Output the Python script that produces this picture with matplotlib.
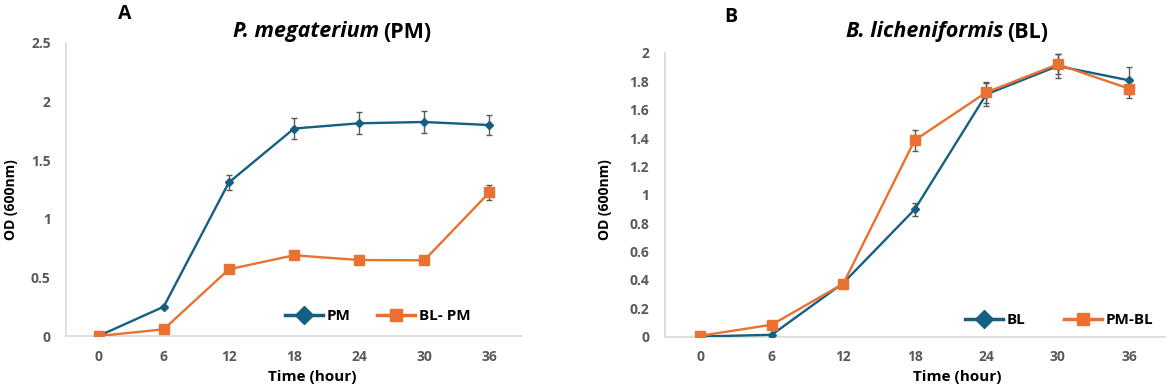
"""Growth curves of P. megaterium and B. licheniformis, single vs co-culture."""
import matplotlib
matplotlib.use("Agg")
import matplotlib.pyplot as plt
from matplotlib.lines import Line2D

# ── data ─────────────────────────────────────────────────────────────────────
time_h = ["0", "6", "12", "18", "24", "30", "36"]

pm_od     = [0.00, 0.25, 1.31, 1.77, 1.815, 1.826, 1.80]
pm_err    = [0.00, 0.01, 0.065, 0.09, 0.092, 0.094, 0.088]
blpm_od   = [0.00, 0.057, 0.569, 0.689, 0.648, 0.646, 1.226]
blpm_err  = [0.00, 0.00, 0.01, 0.03, 0.01, 0.01, 0.064]

bl_od     = [0.00, 0.012, 0.377, 0.897, 1.708, 1.908, 1.807]
bl_err    = [0.00, 0.005, 0.01, 0.046, 0.08, 0.087, 0.094]
pmbl_od   = [0.005, 0.083, 0.372, 1.385, 1.722, 1.92, 1.748]
pmbl_err  = [0.00, 0.005, 0.01, 0.075, 0.073, 0.07, 0.065]

# ── style ────────────────────────────────────────────────────────────────────
BLUE   = "#156082"
ORANGE = "#E97132"
GREY   = "#595959"
SPINE  = "#d9d9d9"
plt.rcParams["font.family"] = ["Open Sans", "DejaVu Sans"]

W, H = 1170, 389
fig = plt.figure(figsize=(W / 100, H / 100), dpi=100)
fig.patch.set_facecolor("white")


def fx(px):
    return px / W


def fy(py):
    return 1 - py / H


def panel(rect, ylim, yticks, series):
    ax = fig.add_axes(rect)
    x = list(range(len(time_h)))
    for vals, errs, col, mk, ms in series:
        ax.errorbar(x, vals, yerr=errs, color=col, lw=1.7, marker=mk, ms=ms,
                    mec=col, mfc=col, ecolor=GREY, elinewidth=1.0, capsize=2.2,
                    capthick=1.0, zorder=3)
    ax.set_xlim(-0.5, len(time_h) - 0.5)
    ax.set_ylim(*ylim)
    ax.set_xticks(x)
    ax.set_xticklabels(time_h)
    ax.set_yticks(yticks)
    ax.set_yticklabels([f"{t:g}" for t in yticks])
    for s in ["top", "right"]:
        ax.spines[s].set_visible(False)
    for s in ["left", "bottom"]:
        ax.spines[s].set_color(SPINE)
        ax.spines[s].set_linewidth(1.2)
    ax.tick_params(length=0, labelsize=10, labelcolor=GREY)
    ax.tick_params(axis="x", pad=10)
    ax.tick_params(axis="y", pad=11)
    for lab in ax.get_xticklabels() + ax.get_yticklabels():
        lab.set_fontweight("bold")
    return ax


def legend(ax, labels, anchor, colspace):
    handles = [
        Line2D([], [], color=BLUE, lw=2.5, marker="D", ms=9, mfc=BLUE, mec=BLUE),
        Line2D([], [], color=ORANGE, lw=2.5, marker="s", ms=9, mfc=ORANGE, mec=ORANGE),
    ]
    ax.legend(handles, labels, ncol=2, frameon=False, loc="center left",
              bbox_to_anchor=anchor, bbox_transform=fig.transFigure,
              prop=dict(weight="bold", size=11), handlelength=2.5,
              handletextpad=0.25, columnspacing=colspace, borderpad=0)


# ── panel A ──────────────────────────────────────────────────────────────────
axA = panel([fx(66), fy(336), fx(522 - 66), (336 - 43) / H], (0, 2.5),
            [0, 0.5, 1, 1.5, 2, 2.5],
            [(pm_od, pm_err, BLUE, "D", 4.5), (blpm_od, blpm_err, ORANGE, "s", 6.5)])
legend(axA, ["PM", "BL- PM"], (fx(277), fy(316)), 1.7)

fig.text(fx(125), fy(14), "A", ha="center", va="center", fontsize=14, fontweight="bold")
fig.text(fx(379), fy(32), "P. megaterium", ha="right", va="center", fontsize=15.5,
         fontweight="bold", style="italic")
fig.text(fx(383), fy(32), "(PM)", ha="left", va="center", fontsize=15.5, fontweight="bold")
fig.text(fx(11), fy(200), "OD (600nm)", rotation=90, ha="center", va="center",
         fontsize=10, fontweight="bold")
fig.text(fx(312), fy(377), "Time (hour)", ha="center", va="center",
         fontsize=11, fontweight="bold")

# ── panel B ──────────────────────────────────────────────────────────────────
axB = panel([fx(664.5), fy(336.5), fx(1165 - 664.5), (336.5 - 53) / H], (0, 2),
            [0, 0.2, 0.4, 0.6, 0.8, 1, 1.2, 1.4, 1.6, 1.8, 2],
            [(bl_od, bl_err, BLUE, "D", 4.5), (pmbl_od, pmbl_err, ORANGE, "s", 6.5)])
legend(axB, ["BL", "PM-BL"], (fx(957), fy(320)), 2.5)

fig.text(fx(731), fy(17), "B", ha="center", va="center", fontsize=14, fontweight="bold")
fig.text(fx(1003), fy(32), "B. licheniformis", ha="right", va="center", fontsize=15.5,
         fontweight="bold", style="italic")
fig.text(fx(1007), fy(32), "(BL)", ha="left", va="center", fontsize=15.5, fontweight="bold")
fig.text(fx(605), fy(200), "OD (600nm)", rotation=90, ha="center", va="center",
         fontsize=10, fontweight="bold")
fig.text(fx(957), fy(377), "Time (hour)", ha="center", va="center",
         fontsize=11, fontweight="bold")

fig.savefig("out.png", dpi=100, facecolor="white")
